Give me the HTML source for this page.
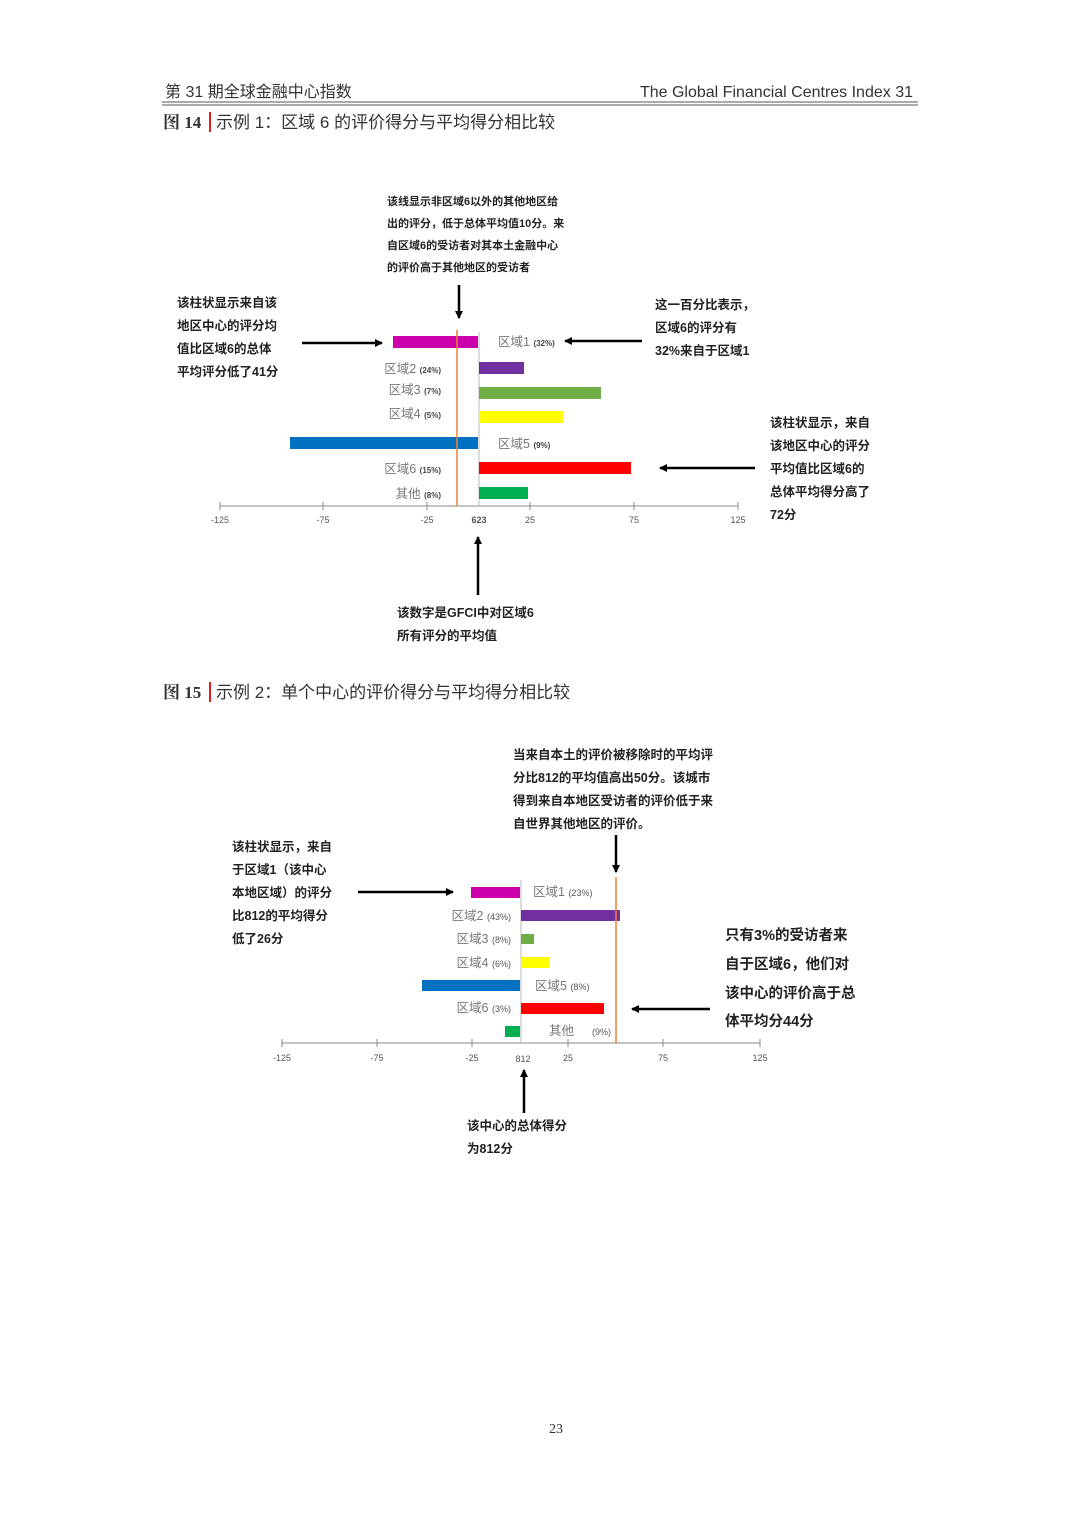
<!DOCTYPE html>
<html><head><meta charset="utf-8"><style>
html,body{margin:0;padding:0;background:#fff;}
svg{display:block;}
text{font-family:"Liberation Sans","Noto Sans CJK SC",sans-serif;}
.b{font-weight:bold;fill:#222;}
.l{fill:#777;font-size:12.5px;}
.p{fill:#444;font-size:8px;font-weight:bold;}
.t{fill:#555;font-size:9px;}
.serif{font-family:"Liberation Serif","Noto Serif CJK SC",serif;}
</style></head><body>
<svg width="1080" height="1527" viewBox="0 0 1080 1527">
<defs><marker id="a" markerWidth="8" markerHeight="8" refX="7" refY="4" orient="auto" markerUnits="userSpaceOnUse"><path d="M0,0 L8,4 L0,8 Z" fill="#000"/></marker></defs>
<!-- header -->
<text x="165" y="97" font-size="16" fill="#333">第 31 期全球金融中心指数</text>
<text x="913" y="97" font-size="16" fill="#333" text-anchor="end">The Global Financial Centres Index 31</text>
<line x1="162" y1="102" x2="918" y2="102" stroke="#555" stroke-width="1"/>
<line x1="162" y1="105" x2="918" y2="105" stroke="#555" stroke-width="1"/>
<text x="163" y="128" font-size="17" fill="#333" class="serif" style="font-weight:bold;font-family:'Liberation Serif','Noto Serif CJK SC',serif">图 14</text>
<rect x="209" y="112" width="2" height="20" fill="#d22"/>
<text x="216" y="128" font-size="17" fill="#333">示例 1：区域 6 的评价得分与平均得分相比较</text>

<!-- chart 1 -->
<line x1="220" y1="506" x2="738" y2="506" stroke="#888"/>
<g stroke="#888"><line x1="220" y1="502" x2="220" y2="510"/><line x1="323" y1="502" x2="323" y2="510"/><line x1="427" y1="502" x2="427" y2="510"/><line x1="530" y1="502" x2="530" y2="510"/><line x1="634" y1="502" x2="634" y2="510"/><line x1="738" y1="502" x2="738" y2="510"/></g>
<line x1="479" y1="332" x2="479" y2="506" stroke="#bbb"/>
<rect x="393" y="336" width="85" height="12" fill="#cc00aa"/>
<rect x="479" y="362" width="45" height="12" fill="#7030a0"/>
<rect x="479" y="387" width="122" height="12" fill="#70ad47"/>
<rect x="479" y="411" width="84" height="12" fill="#ffff00"/>
<rect x="290" y="437" width="188" height="12" fill="#0070c0"/>
<rect x="479" y="462" width="152" height="12" fill="#ff0000"/>
<rect x="479" y="487" width="49" height="12" fill="#00b050"/>
<line x1="457" y1="330" x2="457" y2="506" stroke="#f08030" stroke-width="1.5"/>
<text x="498" y="346" class="l">区域1 <tspan class="p">(32%)</tspan></text>
<text x="441" y="373" class="l" text-anchor="end">区域2 <tspan class="p">(24%)</tspan></text>
<text x="441" y="394" class="l" text-anchor="end">区域3 <tspan class="p">(7%)</tspan></text>
<text x="441" y="418" class="l" text-anchor="end">区域4 <tspan class="p">(5%)</tspan></text>
<text x="498" y="448" class="l">区域5 <tspan class="p">(9%)</tspan></text>
<text x="441" y="473" class="l" text-anchor="end">区域6 <tspan class="p">(15%)</tspan></text>
<text x="441" y="498" class="l" text-anchor="end">其他 <tspan class="p">(8%)</tspan></text>
<g class="t" text-anchor="middle"><text x="220" y="523">-125</text><text x="323" y="523">-75</text><text x="427" y="523">-25</text><text x="479" y="523" font-weight="bold">623</text><text x="530" y="523">25</text><text x="634" y="523">75</text><text x="738" y="523">125</text></g>
<g class="b" font-size="11"><text x="387" y="205">该线显示非区域6以外的其他地区给</text><text x="387" y="227">出的评分，低于总体平均值10分。来</text><text x="387" y="249">自区域6的受访者对其本土金融中心</text><text x="387" y="271">的评价高于其他地区的受访者</text></g>
<line x1="459" y1="285" x2="459" y2="318" stroke="#000" stroke-width="2.5" marker-end="url(#a)"/>
<g class="b" font-size="12.5"><text x="177" y="307">该柱状显示来自该</text><text x="177" y="330">地区中心的评分均</text><text x="177" y="353">值比区域6的总体</text><text x="177" y="376">平均评分低了41分</text></g>
<line x1="302" y1="343" x2="382" y2="343" stroke="#000" stroke-width="2.5" marker-end="url(#a)"/>
<g class="b" font-size="12.5"><text x="655" y="309">这一百分比表示，</text><text x="655" y="332">区域6的评分有</text><text x="655" y="355">32%来自于区域1</text></g>
<line x1="642" y1="341" x2="565" y2="341" stroke="#000" stroke-width="2.5" marker-end="url(#a)"/>
<g class="b" font-size="12.5"><text x="770" y="427">该柱状显示，来自</text><text x="770" y="450">该地区中心的评分</text><text x="770" y="473">平均值比区域6的</text><text x="770" y="496">总体平均得分高了</text><text x="770" y="519">72分</text></g>
<line x1="755" y1="468" x2="660" y2="468" stroke="#000" stroke-width="2.5" marker-end="url(#a)"/>
<line x1="478" y1="595" x2="478" y2="537" stroke="#000" stroke-width="2.5" marker-end="url(#a)"/>
<g class="b" font-size="12.5"><text x="397" y="617">该数字是GFCI中对区域6</text><text x="397" y="640">所有评分的平均值</text></g>

<!-- caption 2 -->
<text x="163" y="698" font-size="17" fill="#333" style="font-weight:bold;font-family:'Liberation Serif','Noto Serif CJK SC',serif">图 15</text>
<rect x="209" y="682" width="2" height="20" fill="#d22"/>
<text x="216" y="698" font-size="17" fill="#333">示例 2：单个中心的评价得分与平均得分相比较</text>

<!-- chart 2 -->
<line x1="282" y1="1043" x2="760" y2="1043" stroke="#888"/>
<g stroke="#888"><line x1="282" y1="1039" x2="282" y2="1047"/><line x1="377" y1="1039" x2="377" y2="1047"/><line x1="472" y1="1039" x2="472" y2="1047"/><line x1="568" y1="1039" x2="568" y2="1047"/><line x1="663" y1="1039" x2="663" y2="1047"/><line x1="760" y1="1039" x2="760" y2="1047"/></g>
<line x1="521" y1="880" x2="521" y2="1043" stroke="#bbb"/>
<rect x="471" y="887" width="49" height="11" fill="#cc00aa"/>
<rect x="521" y="910" width="99" height="11" fill="#7030a0"/>
<rect x="521" y="934" width="13" height="10" fill="#70ad47"/>
<rect x="521" y="957" width="28" height="11" fill="#ffff00"/>
<rect x="422" y="980" width="98" height="11" fill="#0070c0"/>
<rect x="521" y="1003" width="83" height="11" fill="#ff0000"/>
<rect x="505" y="1026" width="15" height="11" fill="#00b050"/>
<line x1="616" y1="877" x2="616" y2="1043" stroke="#f08030" stroke-width="1.5"/>
<text x="533" y="896" class="l">区域1 <tspan class="t">(23%)</tspan></text>
<text x="511" y="920" class="l" text-anchor="end">区域2 <tspan class="t">(43%)</tspan></text>
<text x="511" y="943" class="l" text-anchor="end">区域3 <tspan class="t">(8%)</tspan></text>
<text x="511" y="967" class="l" text-anchor="end">区域4 <tspan class="t">(6%)</tspan></text>
<text x="535" y="990" class="l">区域5 <tspan class="t">(8%)</tspan></text>
<text x="511" y="1012" class="l" text-anchor="end">区域6 <tspan class="t">(3%)</tspan></text>
<text x="549" y="1035" class="l">其他</text><text x="592" y="1035" class="t">(9%)</text>
<g class="t" font-size="10" text-anchor="middle"><text x="282" y="1061">-125</text><text x="377" y="1061">-75</text><text x="472" y="1061">-25</text><text x="523" y="1062">812</text><text x="568" y="1061">25</text><text x="663" y="1061">75</text><text x="760" y="1061">125</text></g>
<g class="b" font-size="12.5"><text x="513" y="759">当来自本土的评价被移除时的平均评</text><text x="513" y="782">分比812的平均值高出50分。该城市</text><text x="513" y="805">得到来自本地区受访者的评价低于来</text><text x="513" y="828">自世界其他地区的评价。</text></g>
<line x1="616" y1="835" x2="616" y2="872" stroke="#000" stroke-width="2.5" marker-end="url(#a)"/>
<g class="b" font-size="12.5"><text x="232" y="851">该柱状显示，来自</text><text x="232" y="874">于区域1（该中心</text><text x="232" y="897">本地区域）的评分</text><text x="232" y="920">比812的平均得分</text><text x="232" y="943">低了26分</text></g>
<line x1="358" y1="892" x2="453" y2="892" stroke="#000" stroke-width="2.5" marker-end="url(#a)"/>
<g class="b" font-size="14.5"><text x="725" y="940">只有3%的受访者来</text><text x="725" y="969">自于区域6，他们对</text><text x="725" y="998">该中心的评价高于总</text><text x="725" y="1026">体平均分44分</text></g>
<line x1="710" y1="1009" x2="632" y2="1009" stroke="#000" stroke-width="2.5" marker-end="url(#a)"/>
<line x1="524" y1="1113" x2="524" y2="1070" stroke="#000" stroke-width="2.5" marker-end="url(#a)"/>
<g class="b" font-size="12.5"><text x="467" y="1130">该中心的总体得分</text><text x="467" y="1153">为812分</text></g>

<text x="556" y="1433" font-size="14" fill="#333" text-anchor="middle" style="font-family:'Liberation Serif',serif">23</text>
</svg>
</body></html>
